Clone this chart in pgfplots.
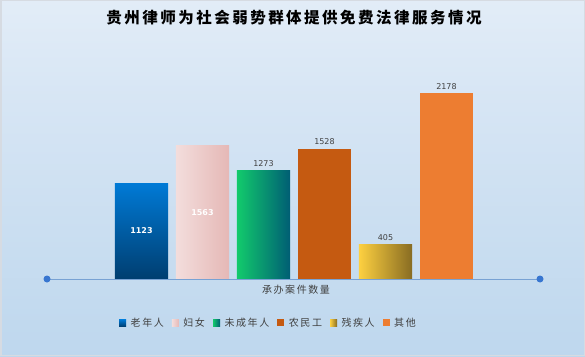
\documentclass[border=0pt]{standalone}
\usepackage{fontspec}
\setmainfont{Noto Sans CJK SC}
\newfontfamily\numfont{DejaVu Sans}
\newfontfamily\spfont[LetterSpace=16]{Noto Sans CJK SC}
\usepackage{pgfplots}
\pgfplotsset{compat=1.18}
\definecolor{bgA}{RGB}{196,218,238}
\definecolor{bgB}{RGB}{181,210,235}
\definecolor{bgC}{RGB}{214,229,244}
\definecolor{bgD}{RGB}{246,249,253}
\definecolor{frame}{RGB}{214,219,226}
\definecolor{c1t}{RGB}{0,122,214}
\definecolor{c1b}{RGB}{0,62,112}
\definecolor{c2l}{RGB}{243,221,220}
\definecolor{c2r}{RGB}{229,184,182}
\definecolor{c3l}{RGB}{18,202,108}
\definecolor{c3r}{RGB}{0,94,116}
\definecolor{c4}{RGB}{197,90,17}
\definecolor{c5l}{RGB}{253,208,64}
\definecolor{c5r}{RGB}{136,108,34}
\definecolor{c6}{RGB}{237,125,49}
\definecolor{axc}{RGB}{120,162,212}
\definecolor{dotc}{RGB}{56,118,208}
\definecolor{txt}{RGB}{64,64,64}
\pgfdeclareverticalshading{bgshade}{100bp}{color(0bp)=(bgA); color(12bp)=(bgB); color(60bp)=(bgC); color(100bp)=(bgD)}
\begin{document}
\begin{tikzpicture}[x=1pt,y=1pt]
\path[use as bounding box] (0,0) rectangle (585,356);
\shade[shading=bgshade] (0,0) rectangle (585,356);
\draw[line width=1.5pt, color=frame] (0.75,0.75) rectangle (584.25,355.25);
\node[font=\spfont\fontsize{15.5}{18}\selectfont\bfseries, text=black] at (294,338) {贵州律师为社会弱势群体提供免费法律服务情况};
\begin{axis}[
  at={(47pt,77pt)}, anchor=south west, scale only axis,
  width=493pt, height=222pt,
  xmin=-1.549, xmax=6.533, ymin=0, ymax=2600,
  axis lines=none, xtick=\empty, ytick=\empty,
  clip=false,
  legend columns=6,
  legend style={draw=none, fill=none, at={(0.4493,-0.198)}, anchor=center,
    font=\spfont\fontsize{10}{12}\selectfont, text=txt,
    /tikz/every odd column/.append style={column sep=2.5pt},
    /tikz/every even column/.append style={column sep=6pt}},
  legend image code/.code={\path[#1, draw=none] (0pt,-3.5pt) rectangle (7pt,3.5pt);},
  nodes near coords style={font=\numfont\fontsize{8}{10}\selectfont, text=txt},
  after end axis/.code={
    \draw[axc, line width=1pt] (rel axis cs:0,0) -- (rel axis cs:1,0);
    \fill[dotc] (rel axis cs:0,0) circle (3.5pt);
    \fill[dotc] (rel axis cs:1,0) circle (3.5pt);
  },
]
\addplot[ybar, bar width=0.87, bar shift=0pt, draw=none, top color=c1t, bottom color=c1b] coordinates {(0,1123)};
\addlegendentry{老年人}
\addplot[ybar, bar width=0.87, bar shift=0pt, draw=none, left color=c2l, right color=c2r] coordinates {(1,1563)};
\addlegendentry{妇女}
\addplot[ybar, bar width=0.87, bar shift=0pt, draw=none, left color=c3l, right color=c3r,
  nodes near coords, point meta=explicit symbolic] coordinates {(2,1273) [1273]};
\addlegendentry{未成年人}
\addplot[ybar, bar width=0.87, bar shift=0pt, draw=none, fill=c4,
  nodes near coords, point meta=explicit symbolic] coordinates {(3,1528) [1528]};
\addlegendentry{农民工}
\addplot[ybar, bar width=0.87, bar shift=0pt, draw=none, left color=c5l, right color=c5r,
  nodes near coords, point meta=explicit symbolic] coordinates {(4,405) [405]};
\addlegendentry{残疾人}
\addplot[ybar, bar width=0.87, bar shift=0pt, draw=none, fill=c6,
  nodes near coords, point meta=explicit symbolic] coordinates {(5,2178) [2178]};
\addlegendentry{其他}
\addplot[forget plot, draw=none, mark=none, nodes near coords, point meta=explicit symbolic,
  every node near coord/.append style={anchor=center, text=white, font=\numfont\bfseries\fontsize{8}{10}\selectfont}]
  coordinates {(0,561.5) [1123] (1,781.5) [1563]};
\end{axis}
\node[font=\spfont\fontsize{10}{12}\selectfont, text=txt] at (296,66) {承办案件数量};
\end{tikzpicture}
\end{document}
